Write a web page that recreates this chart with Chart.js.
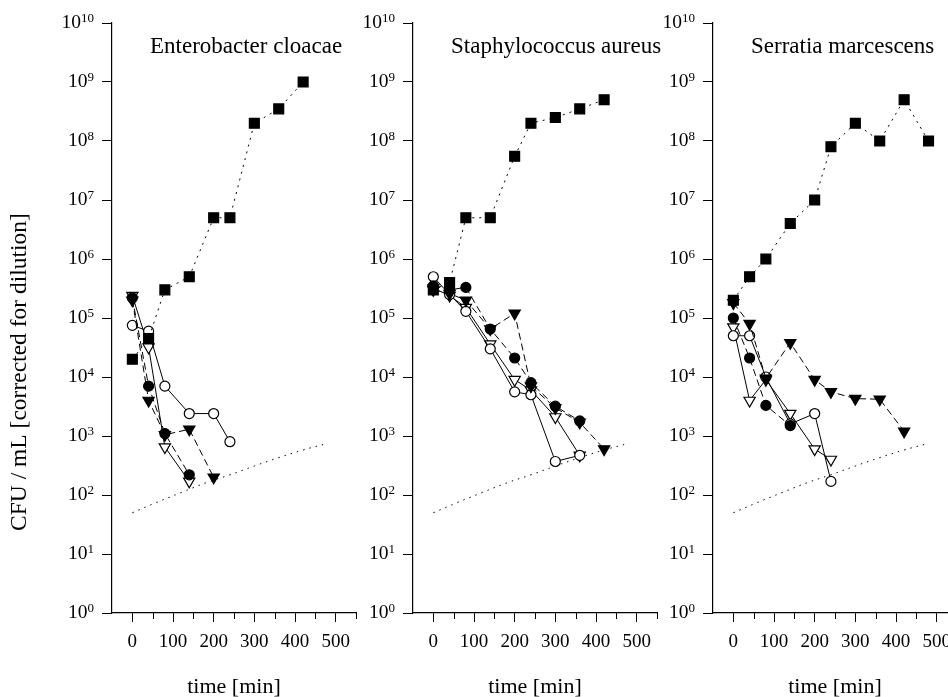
<!DOCTYPE html>
<html>
<head>
<meta charset="utf-8">
<script src="https://cdn.jsdelivr.net/npm/chart.js@4.4.1/dist/chart.umd.min.js"></script>
<style>
  html, body { margin: 0; padding: 0; background: #fff; }
  #fig { position: relative; width: 948px; height: 697px; overflow: hidden; }
  #fig canvas { position: absolute; top: 0; }
</style>
</head>
<body>
<div id="fig">
  <canvas id="panel0" width="370" height="700" style="left:0px"></canvas>
  <canvas id="panel1" width="370" height="700" style="left:301px"></canvas>
  <canvas id="panel2" width="370" height="700" style="left:601px"></canvas>
</div>
<script>
const SERIF = "'Liberation Serif', 'Times New Roman', serif";

// ── labels / ticks ──────────────────────────────────────────
const panelTitles = ['Enterobacter cloacae', 'Staphylococcus aureus', 'Serratia marcescens'];
const yTitle = 'CFU / mL [corrected for dilution]';
const xTitle = 'time [min]';
const xTickValues = [-50, 0, 50, 100, 150, 200, 250, 300, 350, 400, 450, 500, 550];
const yDecades = [0, 1, 2, 3, 4, 5, 6, 7, 8, 9, 10];

// ── detection limit (same curve in every panel) ─────────────
const limitCurve = [[0, 50], [60, 75], [120, 110], [180, 160], [240, 220], [300, 310], [360, 430], [420, 580], [480, 750]];

// ── Enterobacter cloacae ────────────────────────────────────
const ecSquare = [[0, 2e4], [40, 4.5e4], [80, 3e5], [140, 5e5], [200, 5e6], [240, 5e6], [300, 2e8], [360, 3.5e8], [420, 1e9]];
const ecDot = [[0, 2.2e5], [40, 7e3], [80, 1.1e3], [140, 2.2e2]];
const ecRing = [[0, 7.5e4], [40, 6e4], [80, 7e3], [140, 2.4e3], [200, 2.4e3], [240, 8e2]];
const ecTri = [[0, 2e5], [40, 4e3], [80, 1.05e3], [140, 1.3e3], [200, 2e2]];
const ecOpenTri = [[0, 2.4e5], [40, 3.2e4], [80, 6.5e2], [140, 1.7e2]];

// ── Staphylococcus aureus ───────────────────────────────────
const saSquare = [[0, 3e5], [40, 4e5], [80, 5e6], [140, 5e6], [200, 5.5e7], [240, 2e8], [300, 2.5e8], [360, 3.5e8], [420, 5e8]];
const saDot = [[0, 3.5e5], [40, 3e5], [80, 3.3e5], [140, 6.5e4], [200, 2.1e4], [240, 8e3], [300, 3.2e3], [360, 1.8e3]];
const saRing = [[0, 5e5], [40, 2.5e5], [80, 1.3e5], [140, 3e4], [200, 5.6e3], [240, 5e3], [300, 3.7e2], [360, 4.7e2]];
const saTri = [[0, 3e5], [40, 2.6e5], [80, 2e5], [140, 6.5e4], [200, 1.2e5], [240, 7e3], [300, 3e3], [360, 1.7e3], [420, 6e2]];
const saOpenTri = [[0, 3.2e5], [40, 2.4e5], [80, 1.5e5], [140, 3.6e4], [200, 9e3], [240, 6e3], [300, 2.1e3], [360, 4.7e2]];

// ── Serratia marcescens ─────────────────────────────────────
const smSquare = [[0, 2e5], [40, 5e5], [80, 1e6], [140, 4e6], [200, 1e7], [240, 8e7], [300, 2e8], [360, 1e8], [420, 5e8], [480, 1e8]];
const smDot = [[0, 1e5], [40, 2.1e4], [80, 3.3e3], [140, 1.5e3]];
const smRing = [[0, 5e4], [40, 5e4], [80, 1e4], [140, 1.6e3], [200, 2.4e3], [240, 1.7e2]];
const smTri = [[0, 1.8e5], [40, 8e4], [80, 9.5e3], [140, 3.8e4], [200, 9e3], [240, 5.6e3], [300, 4.3e3], [360, 4.2e3], [420, 1.2e3]];
const smOpenTri = [[0, 7e4], [40, 4e3], [80, 9e3], [140, 2.4e3], [200, 6e2], [240, 4e2]];

const panels = [
  { square: ecSquare, dot: ecDot, ring: ecRing, tri: ecTri, openTri: ecOpenTri },
  { square: saSquare, dot: saDot, ring: saRing, tri: saTri, openTri: saOpenTri },
  { square: smSquare, dot: smDot, ring: smRing, tri: smTri, openTri: smOpenTri },
];

// marker + line look per series
const STYLES = {
  square:  { pointStyle: 'rect',     pointRadius: 7,   fill: '#000', dash: [2, 5] },
  dot:     { pointStyle: 'circle',   pointRadius: 5,   fill: '#000', dash: [7, 4] },
  ring:    { pointStyle: 'circle',   pointRadius: 5,   fill: '#fff', dash: [] },
  tri:     { pointStyle: 'triangle', pointRadius: 6.5, fill: '#000', dash: [7, 4], rot: 180 },
  openTri: { pointStyle: 'triangle', pointRadius: 6.5, fill: '#fff', dash: [], rot: 180 },
};

const toXY = pts => pts.map(([x, y]) => ({ x, y }));

function seriesDataset(pts, key) {
  const s = STYLES[key];
  return {
    data: toXY(pts),
    borderColor: '#000',
    borderWidth: 1,
    borderDash: s.dash,
    pointStyle: s.pointStyle,
    pointRadius: s.pointRadius,
    pointRotation: s.rot || 0,
    pointBackgroundColor: s.fill,
    pointBorderColor: '#000',
    pointBorderWidth: 1.2,
    pointHoverRadius: s.pointRadius,
    tension: 0,
    fill: false,
  };
}

// titles, superscript decade labels, minor x ticks
const figureText = {
  id: 'figureText',
  afterDraw(chart, args, opts) {
    const { ctx, chartArea } = chart;
    const xs = chart.scales.x, ys = chart.scales.y;
    ctx.save();
    ctx.fillStyle = '#000';
    ctx.strokeStyle = '#000';

    // decade labels 10^k
    ctx.textBaseline = 'alphabetic';
    ctx.textAlign = 'right';
    const right = ys.right - 18;
    yDecades.forEach(k => {
      const py = ys.getPixelForValue(10 ** k);
      ctx.font = `13px ${SERIF}`;
      const exp = String(k);
      const ew = ctx.measureText(exp).width;
      ctx.fillText(exp, right, py - 1);
      ctx.font = `19.5px ${SERIF}`;
      ctx.fillText('10', right - ew, py + 5);
    });

    // short ticks at the half-hundreds
    ctx.lineWidth = 1;
    ctx.beginPath();
    xTickValues.forEach(v => {
      if (v < 0 || v % 100 === 0) return;
      const px = Math.round(xs.getPixelForValue(v)) + 0.5;
      ctx.moveTo(px, chartArea.bottom);
      ctx.lineTo(px, chartArea.bottom + 6);
    });
    ctx.stroke();

    // species name inside the plot
    ctx.textAlign = 'left';
    ctx.font = `23px ${SERIF}`;
    ctx.fillText(opts.title, chartArea.left + 38, 53);

    // shared y title, first panel only
    if (opts.yTitle) {
      ctx.translate(20, 372);
      ctx.rotate(-Math.PI / 2);
      ctx.textAlign = 'center';
      ctx.textBaseline = 'middle';
      ctx.font = `23.5px ${SERIF}`;
      ctx.fillText(opts.yTitle, 0, 0);
    }
    ctx.restore();
  }
};

panels.forEach((p, i) => {
  const datasets = [
    seriesDataset(p.square, 'square'),
    seriesDataset(p.dot, 'dot'),
    seriesDataset(p.tri, 'tri'),
    seriesDataset(p.ring, 'ring'),
    seriesDataset(p.openTri, 'openTri'),
    {
      data: toXY(limitCurve),
      borderColor: '#000',
      borderWidth: 1,
      borderDash: [1.5, 5],
      pointRadius: 0,
      tension: 0.4,
      fill: false,
    },
  ];

  new Chart(document.getElementById('panel' + i), {
    type: 'line',
    data: { datasets },
    plugins: [figureText],
    options: {
      responsive: false,
      animation: false,
      events: [],
      clip: false,
      layout: { padding: { top: 23, right: 14, bottom: 0, left: 0 } },
      plugins: {
        legend: { display: false },
        tooltip: { enabled: false },
        figureText: { title: panelTitles[i], yTitle: i === 0 ? yTitle : null },
      },
      scales: {
        x: {
          type: 'linear',
          min: -50,
          max: 550,
          afterBuildTicks: s => { s.ticks = xTickValues.map(value => ({ value })); },
          afterFit: s => { s.height = 87; },
          border: { display: true, color: '#000', width: 1.2 },
          grid: {
            display: true,
            drawOnChartArea: false,
            drawTicks: true,
            tickLength: 9,
            tickWidth: 1,
            tickColor: ctx => (ctx.tick && ctx.tick.value >= 0 && ctx.tick.value % 100 === 0) ? '#000' : 'rgba(0,0,0,0)',
          },
          ticks: {
            autoSkip: false,
            maxRotation: 0,
            padding: 9,
            color: '#000',
            font: { family: SERIF, size: 19 },
            callback: v => (v >= 0 && v <= 500 && v % 100 === 0) ? String(v) : '',
          },
          title: {
            display: true,
            text: xTitle,
            color: '#000',
            font: { family: SERIF, size: 22 },
            padding: { top: 0, bottom: 0 },
          },
        },
        y: {
          type: 'logarithmic',
          min: 1,
          max: 1e10,
          afterBuildTicks: s => { s.ticks = yDecades.map(k => ({ value: 10 ** k })); },
          afterFit: s => { s.width = 112; },
          border: { display: true, color: '#000', width: 1.2 },
          grid: {
            display: true,
            drawOnChartArea: false,
            drawTicks: true,
            tickLength: 10,
            tickWidth: 1,
            tickColor: '#000',
          },
          ticks: { display: false },
        },
      },
    },
  });
});
</script>
</body>
</html>
